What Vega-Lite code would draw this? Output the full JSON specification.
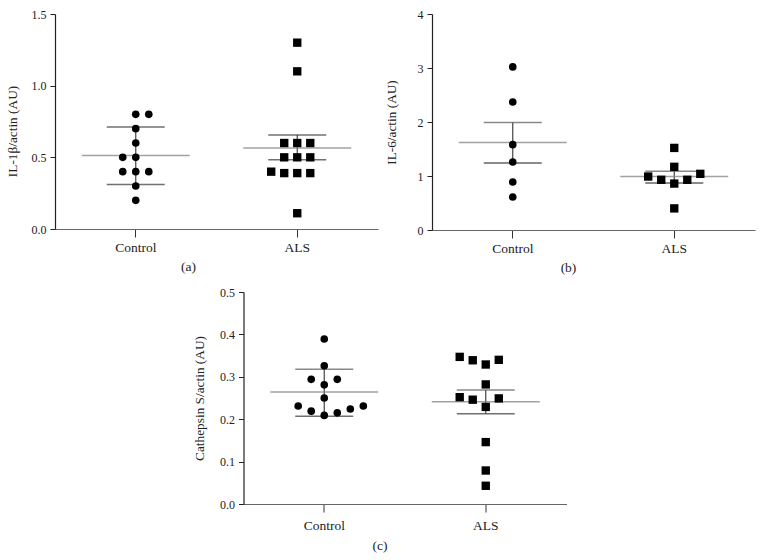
{
  "$schema": "https://vega.github.io/schema/vega-lite/v6.json",
  "padding": {"left": 5, "top": 8, "right": 5, "bottom": 5},
  "background": "white",
  "datasets": {
    "points": [
      {"panel": "a", "group": "Control", "value": 0.8, "col": 0},
      {"panel": "a", "group": "Control", "value": 0.8, "col": 1},
      {"panel": "a", "group": "Control", "value": 0.7, "col": 0},
      {"panel": "a", "group": "Control", "value": 0.6, "col": 0},
      {"panel": "a", "group": "Control", "value": 0.5, "col": -1},
      {"panel": "a", "group": "Control", "value": 0.5, "col": 0},
      {"panel": "a", "group": "Control", "value": 0.4, "col": -1},
      {"panel": "a", "group": "Control", "value": 0.4, "col": 0},
      {"panel": "a", "group": "Control", "value": 0.4, "col": 1},
      {"panel": "a", "group": "Control", "value": 0.3, "col": 0},
      {"panel": "a", "group": "Control", "value": 0.2, "col": 0},
      {"panel": "a", "group": "ALS", "value": 1.3, "col": 0},
      {"panel": "a", "group": "ALS", "value": 1.1, "col": 0},
      {"panel": "a", "group": "ALS", "value": 0.6, "col": -1},
      {"panel": "a", "group": "ALS", "value": 0.6, "col": 0},
      {"panel": "a", "group": "ALS", "value": 0.6, "col": 1},
      {"panel": "a", "group": "ALS", "value": 0.5, "col": -1},
      {"panel": "a", "group": "ALS", "value": 0.5, "col": 0},
      {"panel": "a", "group": "ALS", "value": 0.5, "col": 1},
      {"panel": "a", "group": "ALS", "value": 0.4, "col": -2},
      {"panel": "a", "group": "ALS", "value": 0.39, "col": -1},
      {"panel": "a", "group": "ALS", "value": 0.39, "col": 0},
      {"panel": "a", "group": "ALS", "value": 0.39, "col": 1},
      {"panel": "a", "group": "ALS", "value": 0.11, "col": 0},
      {"panel": "b", "group": "Control", "value": 3.02, "col": 0},
      {"panel": "b", "group": "Control", "value": 2.37, "col": 0},
      {"panel": "b", "group": "Control", "value": 1.58, "col": 0},
      {"panel": "b", "group": "Control", "value": 1.26, "col": 0},
      {"panel": "b", "group": "Control", "value": 0.89, "col": 0},
      {"panel": "b", "group": "Control", "value": 0.61, "col": 0},
      {"panel": "b", "group": "ALS", "value": 1.52, "col": 0},
      {"panel": "b", "group": "ALS", "value": 1.17, "col": 0},
      {"panel": "b", "group": "ALS", "value": 0.99, "col": -2},
      {"panel": "b", "group": "ALS", "value": 0.93, "col": -1},
      {"panel": "b", "group": "ALS", "value": 0.86, "col": 0},
      {"panel": "b", "group": "ALS", "value": 0.93, "col": 1},
      {"panel": "b", "group": "ALS", "value": 1.04, "col": 2},
      {"panel": "b", "group": "ALS", "value": 0.4, "col": 0},
      {"panel": "c", "group": "Control", "value": 0.389, "col": 0},
      {"panel": "c", "group": "Control", "value": 0.326, "col": 0},
      {"panel": "c", "group": "Control", "value": 0.294, "col": -1},
      {"panel": "c", "group": "Control", "value": 0.294, "col": 1},
      {"panel": "c", "group": "Control", "value": 0.281, "col": 0},
      {"panel": "c", "group": "Control", "value": 0.25, "col": 0},
      {"panel": "c", "group": "Control", "value": 0.231, "col": -2},
      {"panel": "c", "group": "Control", "value": 0.231, "col": 3},
      {"panel": "c", "group": "Control", "value": 0.219, "col": -1},
      {"panel": "c", "group": "Control", "value": 0.209, "col": 0},
      {"panel": "c", "group": "Control", "value": 0.215, "col": 1},
      {"panel": "c", "group": "Control", "value": 0.224, "col": 2},
      {"panel": "c", "group": "ALS", "value": 0.347, "col": -2},
      {"panel": "c", "group": "ALS", "value": 0.339, "col": -1},
      {"panel": "c", "group": "ALS", "value": 0.329, "col": 0},
      {"panel": "c", "group": "ALS", "value": 0.34, "col": 1},
      {"panel": "c", "group": "ALS", "value": 0.282, "col": 0},
      {"panel": "c", "group": "ALS", "value": 0.252, "col": -2},
      {"panel": "c", "group": "ALS", "value": 0.246, "col": -1},
      {"panel": "c", "group": "ALS", "value": 0.229, "col": 0},
      {"panel": "c", "group": "ALS", "value": 0.249, "col": 1},
      {"panel": "c", "group": "ALS", "value": 0.146, "col": 0},
      {"panel": "c", "group": "ALS", "value": 0.079, "col": 0},
      {"panel": "c", "group": "ALS", "value": 0.043, "col": 0}
    ],
    "summary": [
      {"panel": "a", "group": "Control", "mean": 0.512, "lo": 0.31, "hi": 0.712},
      {"panel": "a", "group": "ALS", "mean": 0.565, "lo": 0.484, "hi": 0.656},
      {"panel": "b", "group": "Control", "mean": 1.62, "lo": 1.24, "hi": 1.99},
      {"panel": "b", "group": "ALS", "mean": 0.99, "lo": 0.87, "hi": 1.09},
      {"panel": "c", "group": "Control", "mean": 0.264, "lo": 0.207, "hi": 0.318},
      {"panel": "c", "group": "ALS", "mean": 0.241, "lo": 0.213, "hi": 0.269}
    ]
  },
  "vconcat": [
    {
      "hconcat": [
        {
          "width": 323,
          "height": 215,
          "layer": [
            {
              "data": {"name": "summary"},
              "transform": [{"filter": "datum.panel == 'a'"}],
              "layer": [
                {"mark": {"type": "rule", "color": "#444", "strokeWidth": 1.2},
                 "encoding": {
                   "x": {"field": "group", "type": "nominal", "scale": {"domain": ["Control", "ALS"], "paddingInner": 0.5, "paddingOuter": 0.25}, "axis": {"title": "(a)", "titleX": 133}},
                   "y": {"field": "lo", "type": "quantitative", "scale": {"domain": [0, 1.5], "nice": false}, "axis": {"title": "IL-1β/actin (AU)", "values": [0, 0.5, 1, 1.5], "format": ".1f", "titleX": -43, "titleY": 117}},
                   "y2": {"field": "hi"}}},
                {"mark": {"type": "tick", "size": 58, "thickness": 1.5, "color": "#333"},
                 "encoding": {
                   "x": {"field": "group", "type": "nominal"},
                   "y": {"field": "lo", "type": "quantitative"}}},
                {"mark": {"type": "tick", "size": 58, "thickness": 1.5, "color": "#333"},
                 "encoding": {
                   "x": {"field": "group", "type": "nominal"},
                   "y": {"field": "hi", "type": "quantitative"}}},
                {"mark": {"type": "tick", "size": 108, "thickness": 1.5, "color": "#7a7a7a"},
                 "encoding": {
                   "x": {"field": "group", "type": "nominal"},
                   "y": {"field": "mean", "type": "quantitative"}}}
              ]
            },
            {
              "data": {"name": "points"},
              "transform": [{"filter": "datum.panel == 'a'"}],
              "mark": {"type": "point", "filled": true, "opacity": 1, "color": "black", "strokeWidth": 0},
              "encoding": {
                "x": {"field": "group", "type": "nominal"},
                "xOffset": {"field": "col", "type": "quantitative", "scale": {"domain": [-3.1, 3.1], "nice": false, "zero": false}},
                "y": {"field": "value", "type": "quantitative"},
                "shape": {"field": "group", "type": "nominal", "scale": {"domain": ["Control", "ALS"], "range": ["circle", "square"]}, "legend": null},
                "size": {"field": "group", "type": "nominal", "scale": {"domain": ["Control", "ALS"], "range": [58, 70]}, "legend": null}
              }
            }
          ]
        },
        {
          "width": 323,
          "height": 216,
          "layer": [
            {
              "data": {"name": "summary"},
              "transform": [{"filter": "datum.panel == 'b'"}],
              "layer": [
                {"mark": {"type": "rule", "color": "#444", "strokeWidth": 1.2},
                 "encoding": {
                   "x": {"field": "group", "type": "nominal", "scale": {"domain": ["Control", "ALS"], "paddingInner": 0.5, "paddingOuter": 0.25}, "axis": {"title": "(b)", "titleX": 136}},
                   "y": {"field": "lo", "type": "quantitative", "scale": {"domain": [0, 4], "nice": false}, "axis": {"title": "IL-6/actin (AU)", "values": [0, 1, 2, 3, 4], "format": "d", "titleX": -41, "titleY": 108}},
                   "y2": {"field": "hi"}}},
                {"mark": {"type": "tick", "size": 58, "thickness": 1.5, "color": "#555"},
                 "encoding": {
                   "x": {"field": "group", "type": "nominal"},
                   "y": {"field": "hi", "type": "quantitative"}}},
                {"mark": {"type": "tick", "size": 58, "thickness": 1.5, "color": "#222"},
                 "encoding": {
                   "x": {"field": "group", "type": "nominal"},
                   "y": {"field": "lo", "type": "quantitative"}}},
                {"mark": {"type": "tick", "size": 108, "thickness": 1.5, "color": "#7a7a7a"},
                 "encoding": {
                   "x": {"field": "group", "type": "nominal"},
                   "y": {"field": "mean", "type": "quantitative"}}}
              ]
            },
            {
              "data": {"name": "points"},
              "transform": [{"filter": "datum.panel == 'b'"}],
              "mark": {"type": "point", "filled": true, "opacity": 1, "color": "black", "strokeWidth": 0},
              "encoding": {
                "x": {"field": "group", "type": "nominal"},
                "xOffset": {"field": "col", "type": "quantitative", "scale": {"domain": [-3.1, 3.1], "nice": false, "zero": false}},
                "y": {"field": "value", "type": "quantitative"},
                "shape": {"field": "group", "type": "nominal", "scale": {"domain": ["Control", "ALS"], "range": ["circle", "square"]}, "legend": null},
                "size": {"field": "group", "type": "nominal", "scale": {"domain": ["Control", "ALS"], "range": [58, 70]}, "legend": null}
              }
            }
          ]
        }
      ]
    },
    {
      "width": 323,
      "height": 212,
      "layer": [
        {
          "data": {"name": "summary"},
          "transform": [{"filter": "datum.panel == 'c'"}],
          "layer": [
            {"mark": {"type": "rule", "color": "#444", "strokeWidth": 1.2},
             "encoding": {
               "x": {"field": "group", "type": "nominal", "scale": {"domain": ["Control", "ALS"], "paddingInner": 0.5, "paddingOuter": 0.25}, "axis": {"title": "(c)", "titleX": 136, "labelPadding": 6, "titlePadding": 7}},
               "y": {"field": "lo", "type": "quantitative", "scale": {"domain": [0, 0.5], "nice": false}, "axis": {"title": "Cathepsin S/actin (AU)", "values": [0, 0.1, 0.2, 0.3, 0.4, 0.5], "format": ".1f", "titleX": -44, "titleY": 106}},
               "y2": {"field": "hi"}}},
            {"mark": {"type": "tick", "size": 58, "thickness": 1.5, "color": "#555"},
             "encoding": {
               "x": {"field": "group", "type": "nominal"},
               "y": {"field": "hi", "type": "quantitative"}}},
            {"mark": {"type": "tick", "size": 58, "thickness": 1.5, "color": "#333"},
             "encoding": {
               "x": {"field": "group", "type": "nominal"},
               "y": {"field": "lo", "type": "quantitative"}}},
            {"mark": {"type": "tick", "size": 108, "thickness": 1.5, "color": "#7a7a7a"},
             "encoding": {
               "x": {"field": "group", "type": "nominal"},
               "y": {"field": "mean", "type": "quantitative"}}}
          ]
        },
        {
          "data": {"name": "points"},
          "transform": [{"filter": "datum.panel == 'c'"}],
          "mark": {"type": "point", "filled": true, "opacity": 1, "color": "black", "strokeWidth": 0},
          "encoding": {
            "x": {"field": "group", "type": "nominal"},
            "xOffset": {"field": "col", "type": "quantitative", "scale": {"domain": [-3.1, 3.1], "nice": false, "zero": false}},
            "y": {"field": "value", "type": "quantitative"},
            "shape": {"field": "group", "type": "nominal", "scale": {"domain": ["Control", "ALS"], "range": ["circle", "square"]}, "legend": null},
            "size": {"field": "group", "type": "nominal", "scale": {"domain": ["Control", "ALS"], "range": [58, 70]}, "legend": null}
          }
        }
      ]
    }
  ],
  "spacing": 12,
  "center": true,
  "config": {
    "view": {"stroke": null},
    "font": "Liberation Serif",
    "concat": {"spacing": 6},
    "axis": {"labelFont": "Liberation Serif", "titleFont": "Liberation Serif", "labelColor": "#222", "titleColor": "#222", "titleFontWeight": "normal", "grid": false},
    "axisY": {"domainColor": "#222", "tickColor": "#222", "tickSize": 5, "labelFontSize": 12, "titleFontSize": 13.3, "labelPadding": 4, "domainWidth": 1.2, "titleBaseline": "middle", "titleAlign": "center", "titleAngle": -90},
    "axisX": {"domainColor": "#666", "tickColor": "#333", "tickSize": 8, "labelFontSize": 13.5, "titleFontSize": 13.5, "labelAngle": 0, "labelPadding": 3, "titlePadding": 6, "bandPosition": 0.5, "domainWidth": 1.2}
  }
}
